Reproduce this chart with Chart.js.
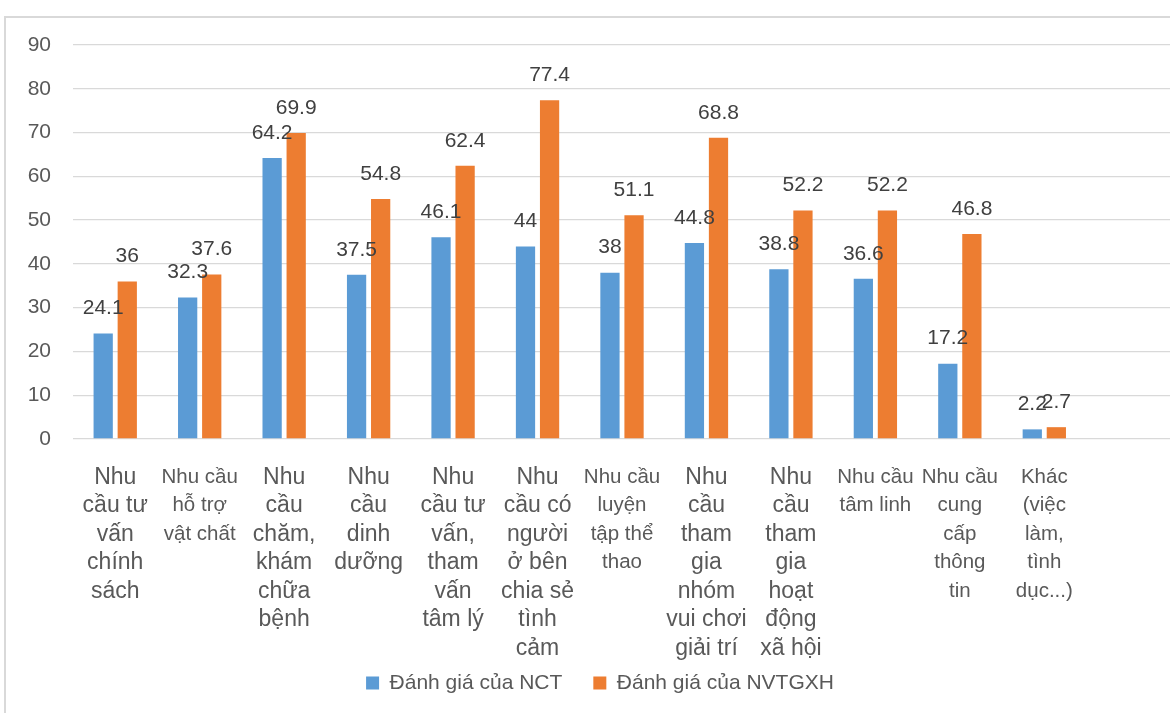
<!DOCTYPE html>
<html>
<head>
<meta charset="utf-8">
<script src="https://cdn.jsdelivr.net/npm/chart.js@4/dist/chart.umd.min.js"></script>
<style>
  html, body { margin: 0; padding: 0; background: #fff; overflow: hidden; }
  #frame { position: absolute; left: 4px; top: 16px; width: 1200px; height: 720px; border: 2px solid #d9d9d9; }
  #myChart { position: absolute; left: 0; top: 0; }
</style>
</head>
<body>
<div id="frame"></div>
<canvas id="myChart" width="1175" height="713"></canvas>
<script>
// categories (pre-wrapped like the original), last one is an empty slot
const categories = [
  ["Nhu", "cầu tư", "vấn", "chính", "sách"],
  ["Nhu cầu", "hỗ trợ", "vật chất"],
  ["Nhu", "cầu", "chăm,", "khám", "chữa", "bệnh"],
  ["Nhu", "cầu", "dinh", "dưỡng"],
  ["Nhu", "cầu tư", "vấn,", "tham", "vấn", "tâm lý"],
  ["Nhu", "cầu có", "người", "ở bên", "chia sẻ", "tình", "cảm"],
  ["Nhu cầu", "luyện", "tập thể", "thao"],
  ["Nhu", "cầu", "tham", "gia", "nhóm", "vui chơi", "giải trí"],
  ["Nhu", "cầu", "tham", "gia", "hoạt", "động", "xã hội"],
  ["Nhu cầu", "tâm linh"],
  ["Nhu cầu", "cung", "cấp", "thông", "tin"],
  ["Khác", "(việc", "làm,", "tình", "dục...)"],
  ""
];
// which labels are set in the smaller font
const smallLabels = [1, 6, 9, 10, 11];

const seriesNames = ["Đánh giá của NCT", "Đánh giá của NVTGXH"];
const nctValues = [24.1, 32.3, 64.2, 37.5, 46.1, 44, 38, 44.8, 38.8, 36.6, 17.2, 2.2, null];
const nvtgxhValues = [36, 37.6, 69.9, 54.8, 62.4, 77.4, 51.1, 68.8, 52.2, 52.2, 46.8, 2.7, null];
const yTicks = [0, 10, 20, 30, 40, 50, 60, 70, 80, 90];

const FONT = "'Liberation Sans', Arial, sans-serif";

// draws the value above each bar
const valueLabels = {
  id: 'valueLabels',
  afterDatasetsDraw(chart) {
    const ctx = chart.ctx;
    ctx.save();
    ctx.font = "21px " + FONT;
    ctx.fillStyle = "#404040";
    ctx.textAlign = "center";
    ctx.textBaseline = "middle";
    chart.data.datasets.forEach(function(ds, i) {
      const meta = chart.getDatasetMeta(i);
      meta.data.forEach(function(bar, j) {
        const v = ds.data[j];
        if (v === null || v === undefined) return;
        ctx.fillText(String(v), bar.x, bar.y - 25);
      });
    });
    ctx.restore();
  }
};

// small layout nudges: let the long x labels run past the axis box,
// and centre the legend like the original
const layoutTweaks = {
  id: 'layoutTweaks',
  afterLayout(chart) {
    chart.scales.x.bottom = chart.height;
    chart.legend.left += 14.5;
    chart.legend.right += 14.5;
  }
};

var ctx = document.getElementById('myChart').getContext('2d');
var chart = new Chart(ctx, {
  type: 'bar',
  data: {
    labels: categories,
    datasets: [{
      label: seriesNames[0],
      backgroundColor: '#5B9BD5',
      data: nctValues
    }, {
      label: seriesNames[1],
      backgroundColor: '#ED7D31',
      data: nvtgxhValues
    }]
  },
  options: {
    responsive: false,
    animation: false,
    layout: { padding: { left: 0, right: 4, top: 45, bottom: 9.5 } },
    datasets: { bar: { categoryPercentage: 0.57, barPercentage: 0.8 } },
    scales: {
      x: {
        grid: { display: false },
        border: { display: false },
        afterFit: function(scale) { scale.height = 202.5; },
        ticks: {
          autoSkip: false,
          maxRotation: 0,
          minRotation: 0,
          padding: 16,
          color: '#595959',
          font: function(c) {
            const small = smallLabels.indexOf(c.index) >= 0;
            return { family: FONT, size: small ? 20.5 : 23, lineHeight: '28.5px' };
          }
        }
      },
      y: {
        min: 0,
        max: 90,
        afterFit: function(scale) { scale.width = 73; },
        afterBuildTicks: function(scale) {
          scale.ticks = yTicks.map(function(v) { return { value: v }; });
        },
        grid: { color: '#d9d9d9', lineWidth: 1.3, drawTicks: false },
        border: { display: false },
        ticks: {
          padding: 22,
          color: '#595959',
          font: { family: FONT, size: 21 }
        }
      }
    },
    plugins: {
      legend: {
        position: 'bottom',
        labels: {
          boxWidth: 13,
          boxHeight: 13,
          padding: 31,
          color: '#595959',
          font: { family: FONT, size: 21 }
        }
      },
      tooltip: { enabled: false }
    }
  },
  plugins: [valueLabels, layoutTweaks]
});
</script>
</body>
</html>
